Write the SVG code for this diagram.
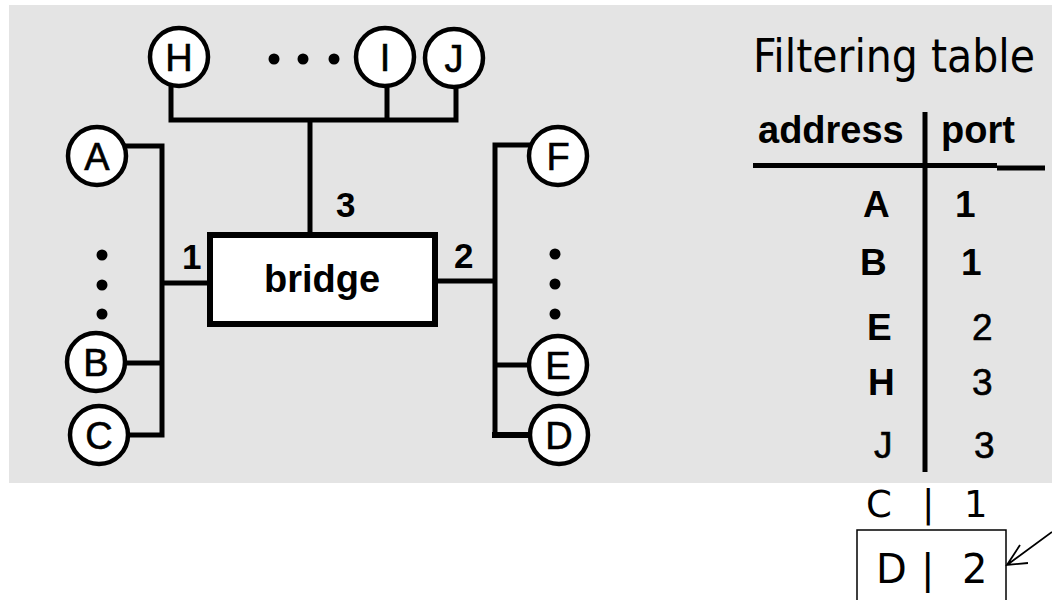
<svg xmlns="http://www.w3.org/2000/svg" width="1052" height="600" viewBox="0 0 1052 600">
<style>
.bg{fill:#e4e4e4}
.host circle{fill:#fff;stroke:#000;stroke-width:4.5}
.host text{font-family:"Liberation Sans",Arial,sans-serif;font-size:38px;text-anchor:middle;fill:#000;stroke:#000;stroke-width:0.6}
.wire{stroke:#000;stroke-width:5;fill:none;stroke-linecap:square}
.dot{fill:#000}
.lbl{font-family:"Liberation Sans",Arial,sans-serif;font-size:35px;font-weight:bold;fill:#000}
.tb{font-family:"Liberation Sans",Arial,sans-serif;font-size:37px;font-weight:bold;fill:#000}
.tn{font-family:"Liberation Sans",Arial,sans-serif;font-size:37px;fill:#000;stroke:#000;stroke-width:0.6}
.vs{font-family:"DejaVu Sans",Verdana,sans-serif;fill:#000}
</style>
<rect class="bg" x="9" y="5" width="1043" height="478"/>

<g id="connectors">
  <path class="wire" d="M171,86 V120 M387,86 V120 M456,87 V120 M171,120 H456 M310,120 V232"/>
  <path class="wire" d="M127,146 H162 V435 M125,363 H162 M128,435 H162 M162,283 H207"/>
  <path class="wire" d="M530,145 H495 V435 M530,365 H495 M438,281 H495"/>
  <path class="wire" d="M495,435 H530" style="stroke-width:6"/>
</g>

<g id="dots">
  <circle class="dot" cx="274" cy="59" r="5.5"/>
  <circle class="dot" cx="303" cy="59" r="5.5"/>
  <circle class="dot" cx="334" cy="59" r="5.5"/>
  <circle class="dot" cx="102" cy="255" r="5.5"/>
  <circle class="dot" cx="102" cy="285" r="5.5"/>
  <circle class="dot" cx="102" cy="314" r="5.5"/>
  <circle class="dot" cx="555" cy="254" r="5.5"/>
  <circle class="dot" cx="555" cy="284" r="5.5"/>
  <circle class="dot" cx="555" cy="314" r="5.5"/>
</g>

<g id="bridge">
  <rect x="210" y="235" width="225" height="89" fill="#fff" stroke="#000" stroke-width="6"/>
  <text x="322" y="292" text-anchor="middle" style="font-family:'Liberation Sans',Arial,sans-serif;font-size:38px;font-weight:bold">bridge</text>
</g>

<g id="port-labels">
  <text class="lbl" x="182" y="269">1</text>
  <text class="lbl" x="454" y="268">2</text>
  <text class="lbl" x="336" y="217">3</text>
</g>

<g id="node-H" class="host"><circle cx="179" cy="57" r="29"/><text x="179" y="71">H</text></g>
<g id="node-I" class="host"><circle cx="385" cy="57" r="29"/><text x="385" y="71">I</text></g>
<g id="node-J" class="host"><circle cx="454" cy="58" r="29"/><text x="454" y="72">J</text></g>
<g id="node-A" class="host"><circle cx="97" cy="156" r="29"/><text x="97" y="170">A</text></g>
<g id="node-B" class="host"><circle cx="96" cy="362" r="29"/><text x="96" y="376">B</text></g>
<g id="node-C" class="host"><circle cx="99" cy="435" r="29"/><text x="99" y="449">C</text></g>
<g id="node-F" class="host"><circle cx="558" cy="156" r="29"/><text x="558" y="170">F</text></g>
<g id="node-E" class="host"><circle cx="558" cy="365" r="29"/><text x="558" y="379">E</text></g>
<g id="node-D" class="host"><circle cx="559" cy="435" r="29"/><text x="559" y="449">D</text></g>

<g id="filtering-table">
  <text class="vs" x="753" y="72" font-size="47" font-stretch="condensed" textLength="282" lengthAdjust="spacingAndGlyphs">Filtering table</text>
  <text class="tb" x="758" y="143" style="font-size:38px">address</text>
  <text class="tb" x="941" y="143" style="font-size:38px">port</text>
  <path d="M753,165.5 H997 M997,168 H1045" stroke="#000" stroke-width="5" fill="none"/>
  <path d="M925,112 V472" stroke="#000" stroke-width="5" fill="none"/>
  <text class="tb" x="863" y="217">A</text><text class="tb" x="955" y="217">1</text>
  <text class="tb" x="860" y="275">B</text><text class="tb" x="961" y="275">1</text>
  <text class="tb" x="867" y="340">E</text><text class="tn" x="972" y="340">2</text>
  <text class="tb" x="868" y="395">H</text><text class="tn" x="972" y="395">3</text>
  <text class="tn" x="874" y="458">J</text><text class="tn" x="974" y="458">3</text>
</g>

<g id="added-entries">
  <text class="vs" font-size="37" y="517"><tspan x="866">C</tspan><tspan x="922">|</tspan><tspan x="964">1</tspan></text>
  <rect x="857" y="530" width="149" height="80" fill="none" stroke="#000" stroke-width="1.5"/>
  <text class="vs" font-size="40" y="583"><tspan x="876">D</tspan><tspan x="921">|</tspan><tspan x="962">2</tspan></text>
  <path d="M1052,532 L1007,565 M1020,545 L1007,565 L1028,563" stroke="#000" stroke-width="1.8" fill="none"/>
</g>
</svg>
